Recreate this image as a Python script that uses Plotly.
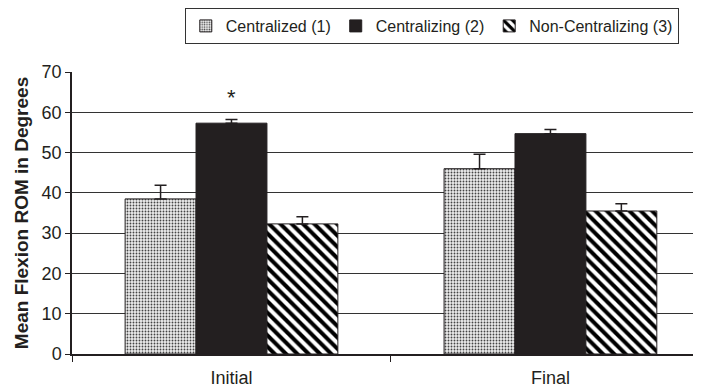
import plotly.graph_objects as go

categories = ["Initial", "Final"]
series_names = ["Centralized (1)", "Centralizing (2)", "Non-Centralizing (3)"]
centralized = [38.5, 46.0]
centralizing = [57.3, 54.7]
non_centralizing = [32.3, 35.5]
err_centralized = [3.4, 3.6]
err_centralizing = [0.9, 1.0]
err_non_centralizing = [1.8, 1.8]
y_ticks = [0, 10, 20, 30, 40, 50, 60, 70]

FONT = "Liberation Sans, Arial, Helvetica, sans-serif"
DARK = "#231f20"

fig = go.Figure()

def add_bar(name, vals, errs, color, pattern):
    fig.add_trace(go.Bar(
        name=name, x=categories, y=vals,
        marker=dict(color=color, line=dict(color=DARK, width=1), pattern=pattern),
        error_y=dict(type="data", array=errs, arrayminus=[0] * len(errs),
                     symmetric=False, color=DARK, thickness=1.5, width=6),
    ))

add_bar(series_names[0], centralized, err_centralized, "white",
        dict(shape=".", fgcolor="#444444", bgcolor="#ececec", size=3, solidity=0.3,
             fgopacity=1))
add_bar(series_names[1], centralizing, err_centralizing, DARK, None)
add_bar(series_names[2], non_centralizing, err_non_centralizing, "white",
        dict(shape="\\", fgcolor="#000000", bgcolor="white", size=8, solidity=0.5,
             fgopacity=1))

fig.add_annotation(x=0, y=63.6, text="*", showarrow=False, xref="x", yref="y",
                   font=dict(size=22, color=DARK, family=FONT))

# browser body margin of 8px is compensated in the margins/size below
fig.update_layout(
    width=693, height=381,
    margin=dict(l=64, r=0, t=64, b=35, autoexpand=False),
    paper_bgcolor="white", plot_bgcolor="white",
    barmode="group", bargap=0.333, bargroupgap=0,
    font=dict(family=FONT, size=16, color=DARK),
    showlegend=True,
    legend=dict(orientation="h", x=0.572, xanchor="center", yref="container",
                y=1.0, yanchor="top", bordercolor="#333333", borderwidth=1,
                font=dict(size=16, color=DARK), itemwidth=30,
                tracegroupgap=0, bgcolor="white"),
)
fig.update_xaxes(range=[-0.5, 1.472], showline=True, linecolor=DARK, linewidth=1.5,
                 ticks="outside", tickson="boundaries", ticklen=6, tickcolor=DARK,
                 showgrid=False, ticklabelstandoff=7, automargin=False,
                 tickfont=dict(size=18, color=DARK))
fig.update_yaxes(range=[0, 70], tickvals=y_ticks, showline=True, linecolor=DARK,
                 linewidth=1.5, ticks="outside", ticklen=5, tickcolor=DARK,
                 showgrid=True, gridcolor="#333333", gridwidth=1, zeroline=False,
                 automargin=False, tickfont=dict(size=18, color=DARK),
                 title=dict(text="<b>Mean Flexion ROM in Degrees</b>", standoff=8,
                            font=dict(size=19, color=DARK)))

fig.write_html("out.html")
